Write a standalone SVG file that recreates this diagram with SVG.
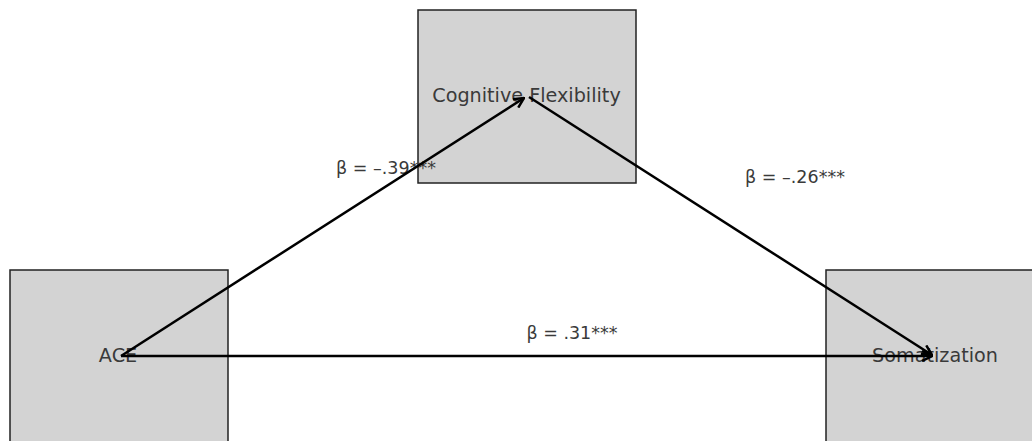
<svg xmlns="http://www.w3.org/2000/svg" width="1032" height="441" viewBox="0 0 1032 441">
<style>
.box{fill:#d3d3d3;stroke:#222;stroke-width:1.5}
.lbl{font-family:"DejaVu Sans",sans-serif;font-size:19.2px;fill:#3a3a3a;text-anchor:middle;dominant-baseline:central}
.beta{font-family:"DejaVu Sans",sans-serif;font-size:17.5px;fill:#3a3a3a;text-anchor:middle;dominant-baseline:central}
.edge{stroke:#000;stroke-width:2.5;fill:none;marker-end:url(#ah)}
</style>
<defs>
<marker id="ah" viewBox="0 0 12 12" refX="11" refY="6" markerWidth="12" markerHeight="12" markerUnits="userSpaceOnUse" orient="auto">
<path d="M1,1 L11,6 L1,11" fill="none" stroke="#000" stroke-width="2.5"/>
</marker>
</defs>
<rect width="1032" height="441" fill="#fff"/>
<g id="node-cf"><rect class="box" x="418" y="10" width="218" height="173"/><text class="lbl" x="526.5" y="95">Cognitive Flexibility</text></g>
<g id="node-ace"><rect class="box" x="10" y="270" width="218" height="180"/><text class="lbl" x="118" y="355">ACE</text></g>
<g id="node-som"><rect class="box" x="826" y="270" width="218" height="180"/><text class="lbl" x="935" y="355">Somatization</text></g>
<g id="labels">
<text class="beta" x="386" y="168">β = –.39***</text>
<text class="beta" x="795" y="177">β = –.26***</text>
<text class="beta" x="572" y="333">β = .31***</text>
</g>
<g id="connectors">
<line class="edge" x1="121" y1="356" x2="524" y2="98"/>
<line class="edge" x1="529" y1="97" x2="932" y2="355"/>
<line class="edge" x1="121" y1="356" x2="932" y2="356"/>
</g>
</svg>
